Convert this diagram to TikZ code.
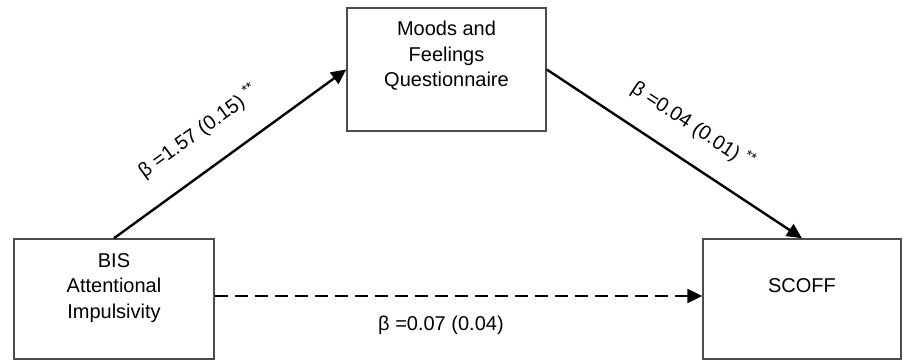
\documentclass[tikz,border=0pt]{standalone}
\usepackage{fontspec}
\setmainfont{Liberation Sans}
\usetikzlibrary{arrows.meta}
\begin{document}
\begin{tikzpicture}[x=1pt, y=1pt,
    varbox/.style={draw=black!70, line width=1.5pt, inner sep=0pt,
        minimum width=200pt, minimum height=120pt},
    boxtext/.style={anchor=north, align=center, inner sep=0pt, font=\fontsize{20}{25.5}\selectfont},
    effect/.style={line width=2.4pt, -{Triangle[length=15pt, width=14pt]}},
    coef/.style={inner sep=0pt, font=\fontsize{20}{24}\selectfont}]
    \useasboundingbox (0,0) rectangle (904,361);

    % Variables
    \node[varbox, label={[boxtext, yshift=-15pt]north:BIS\\Attentional\\Impulsivity}] (bis) at (114,62) {};
    \node[varbox, minimum width=199pt, minimum height=123pt,
        label={[boxtext, yshift=-14pt]north:Moods and\\Feelings\\Questionnaire}] (mfq) at (446.5,291.5) {};
    \node[varbox, minimum width=198pt,
        label={[boxtext, yshift=-40pt]north:SCOFF}] (scoff) at (802,62) {};

    % Paths
    \draw[effect] (bis.north) -- (mfq.west)
        node[coef, pos=0.456, sloped, above=25pt] {β =1.57 (0.15) \textsuperscript{**}};
    \draw[effect] (mfq.east) -- (scoff.north)
        node[coef, pos=0.5, sloped, above=22pt] {β =0.04 (0.01) \textsuperscript{**}};
    \draw[effect, dash pattern=on 13pt off 7pt] ([yshift=3pt]bis.east) -- ([yshift=3pt]scoff.west)
        node[coef, pos=0.464, below=19pt] {β =0.07 (0.04)};
\end{tikzpicture}
\end{document}
